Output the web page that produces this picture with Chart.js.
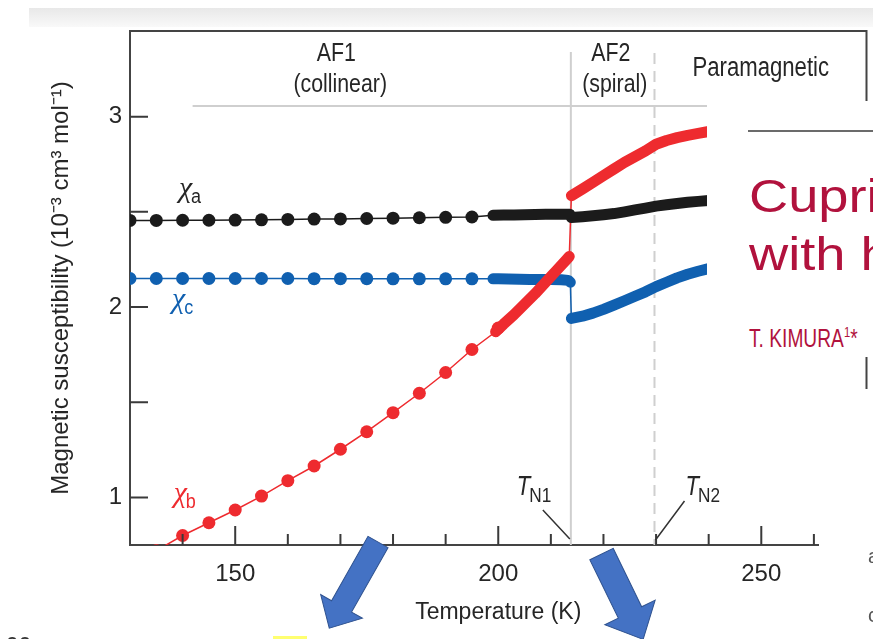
<!DOCTYPE html>
<html><head><meta charset="utf-8"><title>Magnetic susceptibility</title>
<script src="https://cdn.jsdelivr.net/npm/chart.js"></script>
<style>
html,body{margin:0;padding:0;background:#fff;}
#wrap{position:relative;width:873px;height:639px;overflow:hidden;background:#fff;}
#topbar{position:absolute;left:29px;top:8px;width:844px;height:19px;background:linear-gradient(#e8e8e8,#f9f9f9);}
#c{position:absolute;left:0;top:0;}
#ov{position:absolute;left:0;top:0;}
</style></head><body>
<div id="wrap">
<div id="topbar"></div>
<canvas id="c" width="873" height="639"></canvas>
<svg id="ov" width="873" height="639" xmlns="http://www.w3.org/2000/svg">
 <rect x="707" y="101" width="166" height="256" fill="#fff"/>
 <rect x="819" y="389" width="54" height="250" fill="#fff"/>
 <line x1="748" y1="131" x2="873" y2="131" stroke="#3a3a3a" stroke-width="1.5"/>
 <g fill="#b1123d" font-family="'Liberation Sans', Arial, sans-serif">
  <text transform="translate(749,212) scale(1.18,1)" font-size="46">Cupri</text>
  <text transform="translate(749,270) scale(1.18,1)" font-size="46">with h</text>
  <text transform="translate(749,347) scale(0.75,1)" font-size="25.6">T. KIMURA<tspan font-size="15" dy="-10">1</tspan><tspan dy="10">*</tspan></text>
 </g>
 <g fill="#555" font-family="'Liberation Sans', Arial, sans-serif" font-size="20">
  <text x="868" y="563">a</text>
  <text x="868" y="622">c</text>
 </g>
 <text x="5" y="654" font-size="24" fill="#333" font-family="'Liberation Sans', Arial, sans-serif">60</text>
 <rect x="273" y="636" width="34" height="3" fill="#ffff70"/>
 <g fill="#4472c4" stroke="#2f528f" stroke-width="1">
  <polygon transform="translate(378,542) rotate(119.5)" points="0,-11.5 74,-11.5 74,-24 99,0 74,24 74,11.5 0,11.5"/>
  <polygon transform="translate(601.5,554) rotate(64)" points="0,-13 65,-13 65,-28 95,0 65,28 65,13 0,13"/>
 </g>
</svg>
</div>
<script>
// ---------- data ----------
const TN1 = 213.8;   // K, solid line
const TN2 = 229.7;   // K, dashed line

// chi_a (black)
const T_A_DOTS  = [130,135,140,145,150,155,160,165,170,175,180,185,190,195];
const CHI_A_DOTS = [2.455,2.455,2.456,2.456,2.457,2.458,2.460,2.462,2.463,2.465,2.467,2.469,2.471,2.473];
const T_A_BAND1 = [199,201,203,205,207,209,211,213.6];
const CHI_A_BAND1 = [2.482,2.483,2.484,2.485,2.486,2.487,2.488,2.488];
const T_A_BAND2 = [213.9,216,218,220,222,224,226,228,230,232,234,236,238,240];
const CHI_A_BAND2 = [2.470,2.474,2.479,2.485,2.491,2.500,2.510,2.520,2.530,2.537,2.544,2.550,2.555,2.560];

// chi_b (red)
const T_B_DOTS  = [135,140,145,150,155,160,165,170,175,180,185,190,195,200];
const CHI_B_DOTS = [0.72,0.80,0.867,0.934,1.007,1.088,1.165,1.253,1.345,1.445,1.547,1.656,1.777,1.89];
const T_B_BAND1 = [199.5,201,203,205,207,209,211,213,213.5];
const CHI_B_BAND1 = [1.87,1.91,1.96,2.015,2.07,2.13,2.19,2.25,2.265];
const T_B_BAND2 = [213.9,216,218,220,222,224,226,228,230,232,234,236,238,240];
const CHI_B_BAND2 = [2.585,2.62,2.655,2.69,2.725,2.76,2.79,2.82,2.855,2.875,2.89,2.902,2.912,2.922];

// chi_c (blue)
const T_C_DOTS  = [130,135,140,145,150,155,160,165,170,175,180,185,190,195];
const CHI_C_DOTS = [2.150,2.150,2.150,2.150,2.150,2.150,2.150,2.149,2.149,2.149,2.148,2.148,2.148,2.148];
const T_C_BAND1 = [199,200,202,204,206,208,210,212,213.3,213.7];
const CHI_C_BAND1 = [2.148,2.148,2.147,2.146,2.145,2.145,2.144,2.143,2.140,2.130];
const T_C_BAND2 = [213.9,216,218,220,222,224,226,228,230,232,234,236,238,240];
const CHI_C_BAND2 = [1.940,1.952,1.968,1.988,2.010,2.033,2.057,2.080,2.107,2.130,2.153,2.172,2.188,2.202];

const X_TICK_LABELS = [150,200,250];
const Y_TICK_LABELS = [1,2,3];
const X_TITLE = 'Temperature (K)';
const Y_TITLE = 'Magnetic susceptibility (10\u207B\u00B3 cm\u00B3 mol\u207B\u00B9)';
const PHASES = [
  {top:'AF1', bottom:'(collinear)', t:169.2},
  {top:'AF2', bottom:'(spiral)', t:221.4},
  {top:'Paramagnetic', bottom:null, t:249.9}
];

// ---------- fonts ----------
function hasFont(name){
  const c = document.createElement('canvas').getContext('2d');
  const s = 'Paramagnetic susceptibility 0123456789';
  c.font = '40px monospace'; const w1 = c.measureText(s).width;
  c.font = '40px "' + name + '", monospace'; const w2 = c.measureText(s).width;
  return Math.abs(w1 - w2) > 1;
}
let FAM, SQUEEZE, NARROW = false;
if (hasFont('Liberation Sans Narrow')) { FAM = '"Liberation Sans Narrow"'; SQUEEZE = 1; NARROW = true; }
else if (hasFont('Arial Narrow')) { FAM = '"Arial Narrow"'; SQUEEZE = 1; NARROW = true; }
else { FAM = '"Liberation Sans", Arial'; SQUEEZE = 0.82; }
const TICK_FS = NARROW ? 27 : 24;
const XT_FS = NARROW ? 26 : 23;
const YT_FS = NARROW ? 27 : 24;
const LAB_FS = 26;
const SERIF = '"Liberation Serif", "DejaVu Serif", serif';

const BLACK = '#1b1b1b', RED = '#ee2b2f', BLUE = '#1060b0', INK = '#262626';

function pts(T, V){ return T.map((t,i)=>({x:t, y:V[i]})); }
function series(color, dT, dV, b1T, b1V, b2T, b2V, base){
  const band = pts(b1T,b1V).concat([{x:TN1, y:null}], pts(b2T,b2V));
  const trace = pts(dT,dV).concat(pts(b1T,b1V), pts(b2T,b2V)).sort((p,q)=>p.x-q.x);
  return [
    {data: band, borderColor: color, borderWidth: 11, pointRadius: 0, borderCapStyle:'round', borderJoinStyle:'round', order: base, tension:0},
    {data: pts(dT,dV), showLine:false, pointRadius: 6.5, pointBackgroundColor: color, pointBorderWidth:0, order: base+1},
    {data: trace, borderColor: color, borderWidth: 1.5, pointRadius: 0, order: base+2, tension:0}
  ];
}

function drawTxt(ctx, s, x, y, o){
  ctx.save();
  ctx.font = (o.italic ? 'italic ' : '') + o.size + 'px ' + (o.serif ? SERIF : FAM);
  ctx.fillStyle = o.color || INK;
  ctx.textAlign = o.align || 'left';
  ctx.textBaseline = 'alphabetic';
  const sq = o.serif ? 1 : (o.sq !== undefined ? o.sq : SQUEEZE);
  ctx.translate(x, y); ctx.scale(sq, 1); ctx.fillText(s, 0, 0);
  const w = ctx.measureText(s).width * sq;
  ctx.restore();
  return w;
}

const decor = {
  id: 'decor',
  beforeDatasetsDraw(chart){
    const {ctx, chartArea:a, scales:{x, y}} = chart;
    ctx.save();
    ctx.strokeStyle = '#444'; ctx.lineWidth = 2;
    ctx.beginPath(); ctx.moveTo(a.left - 1, a.top); ctx.lineTo(a.right, a.top); ctx.lineTo(a.right, a.bottom); ctx.stroke();
    // phase separator
    ctx.strokeStyle = '#cfcfcf'; ctx.lineWidth = 2;
    ctx.beginPath(); ctx.moveTo(x.getPixelForValue(141.9), a.top + 75); ctx.lineTo(a.right, a.top + 75); ctx.stroke();
    // transition lines
    const x1 = x.getPixelForValue(TN1), x2 = x.getPixelForValue(TN2);
    ctx.beginPath(); ctx.moveTo(x1, a.top + 21); ctx.lineTo(x1, a.bottom); ctx.stroke();
    ctx.setLineDash([11, 7]);
    ctx.beginPath(); ctx.moveTo(x2, a.top + 22); ctx.lineTo(x2, a.bottom); ctx.stroke();
    ctx.setLineDash([]);
    ctx.restore();
    // phase labels
    PHASES.forEach(p => {
      const cx = x.getPixelForValue(p.t);
      if (p.bottom) {
        drawTxt(ctx, p.top, cx, a.top + 30, {size: LAB_FS, align:'center'});
        drawTxt(ctx, p.bottom, cx + 4, a.top + 61, {size: LAB_FS, align:'center'});
      } else {
        drawTxt(ctx, p.top, cx, a.top + 45, {size: LAB_FS + 1, align:'center'});
      }
    });
  },
  afterDatasetsDraw(chart){
    const {ctx, chartArea:a, scales:{x, y}} = chart;
    ctx.save();
    ctx.strokeStyle = '#3a3a3a'; ctx.lineWidth = 2;
    ctx.beginPath();
    x.ticks.forEach(t => {
      const v = t.value;
      if (v <= 130 || v > 260 || Math.abs(v/10 - Math.round(v/10)) > 1e-6) return;
      const px = x.getPixelForValue(v);
      const len = (Math.round(v) % 50 === 0) ? 19 : 11;
      ctx.moveTo(px, a.bottom); ctx.lineTo(px, a.bottom - len);
    });
    y.ticks.forEach(t => {
      const v = t.value;
      if (v < 1 || v > 3 || Math.abs(v*2 - Math.round(v*2)) > 1e-6) return;
      const py = y.getPixelForValue(v);
      ctx.moveTo(a.left, py); ctx.lineTo(a.left + 18, py);
    });
    ctx.stroke();
    // transition leaders
    ctx.strokeStyle = '#333'; ctx.lineWidth = 1.5;
    const x1 = x.getPixelForValue(TN1), x2 = x.getPixelForValue(TN2);
    ctx.beginPath();
    ctx.moveTo(x1 - 28, a.bottom - 35); ctx.lineTo(x1 - 1, a.bottom - 6);
    ctx.moveTo(x2 + 30, a.bottom - 44); ctx.lineTo(x2 + 1, a.bottom - 5);
    ctx.stroke();
    ctx.restore();
    // T_N labels
    let w = drawTxt(ctx, 'T', x1 - 54, a.bottom - 50, {size: 27, italic: true});
    drawTxt(ctx, 'N1', x1 - 54 + w - 1, a.bottom - 43, {size: 21});
    w = drawTxt(ctx, 'T', x2 + 31, a.bottom - 50, {size: 27, italic: true});
    drawTxt(ctx, 'N2', x2 + 31 + w - 1, a.bottom - 43, {size: 21});
    // chi labels
    const lab = (t, v, sub, col) => {
      const px = x.getPixelForValue(t), py = y.getPixelForValue(v);
      const ww = drawTxt(ctx, '\u03C7', px, py, {size: 30, italic: true, serif: true, color: col});
      drawTxt(ctx, sub, px + ww - 1, py + 6, {size: 20, sq: 0.9, color: col});
    };
    lab(139.3, 2.578, 'a', INK);
    lab(138.0, 1.995, 'c', BLUE);
    lab(138.3, 0.975, 'b', RED);
  }
};

const datasets = [].concat(
  series(BLACK, T_A_DOTS, CHI_A_DOTS, T_A_BAND1, CHI_A_BAND1, T_A_BAND2, CHI_A_BAND2, 1),
  series(RED,   T_B_DOTS, CHI_B_DOTS, T_B_BAND1, CHI_B_BAND1, T_B_BAND2, CHI_B_BAND2, 4),
  series(BLUE,  T_C_DOTS, CHI_C_DOTS, T_C_BAND1, CHI_C_BAND1, T_C_BAND2, CHI_C_BAND2, 7)
);

new Chart(document.getElementById('c'), {
  type: 'line',
  data: { datasets },
  plugins: [decor],
  options: {
    responsive: false, animation: false, devicePixelRatio: 1,
    layout: { padding: { left: 0, top: 31, right: 3, bottom: 0 } },
    plugins: { legend: { display: false }, tooltip: { enabled: false } },
    elements: { point: { hoverRadius: 0 } },
    scales: {
      x: {
        type: 'linear', min: 130, max: 270,
        afterFit: s => { s.height = 94; s.paddingRight = 0; s.paddingLeft = 0; },
        grid: { display: false, drawTicks: false },
        border: { display: true, color: '#444', width: 2 },
        ticks: { stepSize: 10, autoSkip: false, maxRotation: 0, padding: 0, color: INK,
                 font: { family: FAM, size: TICK_FS, lineHeight: '59px' },
                 callback: v => X_TICK_LABELS.includes(Math.round(v)) && Math.abs(v - Math.round(v)) < 1e-6 ? String(Math.round(v)) : '' },
        title: { display: true, text: X_TITLE, color: INK, font: { family: FAM, size: XT_FS }, padding: { top: 0, bottom: 13 } }
      },
      y: {
        min: 0.75, max: 3.45,
        afterFit: s => { s.width = 130; },
        grid: { display: false, drawTicks: false },
        border: { display: true, color: '#444', width: 2 },
        ticks: { stepSize: 0.5, autoSkip: false, padding: 8, color: INK,
                 font: { family: FAM, size: TICK_FS },
                 callback: v => (Math.abs(v - Math.round(v)) < 1e-6 && Y_TICK_LABELS.includes(Math.round(v))) ? String(Math.round(v)) : '' },
        title: { display: true, text: Y_TITLE, color: INK, font: { family: FAM, size: YT_FS }, padding: { top: 47, bottom: 0 } }
      }
    }
  }
});
</script>
</body></html>
